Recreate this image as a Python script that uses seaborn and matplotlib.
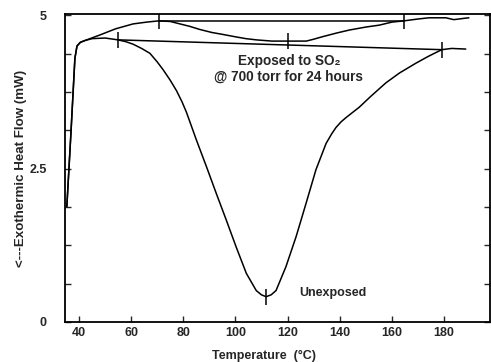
import numpy as np
import pandas as pd
import matplotlib
matplotlib.use("Agg")
import matplotlib.pyplot as plt
from matplotlib.ticker import MultipleLocator
import seaborn as sns

# ── Data ──────────────────────────────────────────────────────────────────────
unexp_temp = [35.3, 36.9, 38.4, 39.2, 40.5, 42.3, 45, 50, 54.9, 58, 60.7, 64,
              67.2, 70, 72.3, 75, 77.4, 79.5, 81.2, 85.0, 88.9, 92.7, 96.5,
              100.3, 104.2, 108.0, 110, 111.8, 113.7, 115.6, 119.4, 123.3,
              127.1, 130.9, 134.8, 137, 138.6, 140.5, 142.4, 147.5, 152, 157.8,
              163, 169.3, 174, 179.2, 183, 188.4]
unexp_flow = [1.88, 3.1, 4.30, 4.50, 4.56, 4.59, 4.62, 4.63, 4.60, 4.57, 4.53, 4.46,
              4.38, 4.24, 4.11, 3.94, 3.77, 3.59, 3.42, 2.97, 2.53, 2.09, 1.66,
              1.22, 0.79, 0.51, 0.44, 0.41, 0.44, 0.51, 0.90, 1.39,
              1.93, 2.48, 2.91, 3.07, 3.17, 3.26, 3.33, 3.50, 3.68, 3.90,
              4.06, 4.22, 4.33, 4.44, 4.46, 4.45]

exp_temp = [35.3, 36.9, 38.4, 39.2, 40.5, 42.3, 48, 54, 60.7, 66, 70.6, 75,
            82.5, 86.3, 91, 95, 100, 104, 108, 114, 120, 127.2, 130, 133.3,
            138.7, 143.7, 150.2, 155.2, 160.1, 164.7, 170, 174.3, 180.8,
            183.8, 185.8, 187.5, 189.6]
exp_flow = [1.88, 3.1, 4.30, 4.50, 4.56, 4.59, 4.68, 4.78, 4.86, 4.89, 4.91,
            4.90, 4.82, 4.77, 4.72, 4.69, 4.65, 4.62, 4.60, 4.58, 4.58, 4.58,
            4.61, 4.65, 4.71, 4.76, 4.81, 4.84, 4.89, 4.91, 4.94, 4.96, 4.96,
            4.93, 4.94, 4.95, 4.96]

# onset / peak / end marks
unexp_mark_t = [54.9, 111.9, 179.2]
unexp_mark_v = [4.60, 0.41, 4.44]
exp_mark_t = [70.6, 120, 164.7]
exp_mark_v = [4.91, 4.58, 4.91]

x_ticks = [40, 60, 80, 100, 120, 140, 160, 180]
y_ticks = [0, 2.5, 5]

df = pd.concat([
    pd.DataFrame({"Temperature": unexp_temp, "Flow": unexp_flow, "Sample": "Unexposed"}),
    pd.DataFrame({"Temperature": exp_temp, "Flow": exp_flow, "Sample": "Exposed"}),
])

# ── Plot ──────────────────────────────────────────────────────────────────────
sns.set_theme(style="ticks")
plt.rcParams["font.family"] = ["Liberation Sans", "DejaVu Sans"]
plt.rcParams["font.weight"] = "bold"

fig = plt.figure(figsize=(4.91, 3.62), dpi=100)
ax = fig.add_axes([0.1324, 0.111, 0.866, 0.850])

sns.lineplot(data=df, x="Temperature", y="Flow", units="Sample", estimator=None,
             sort=False, color="black", lw=1.1, ax=ax)

# baselines between onset and end marks
ax.plot([unexp_mark_t[0], unexp_mark_t[-1]], [unexp_mark_v[0], unexp_mark_v[-1]],
        color="black", lw=1.1)
ax.plot([exp_mark_t[0], exp_mark_t[-1]], [exp_mark_v[0], exp_mark_v[-1]],
        color="black", lw=1.1)
ax.plot(unexp_mark_t, unexp_mark_v, ls="none", marker="|", ms=11, mew=1.1, color="black")
ax.plot(exp_mark_t, exp_mark_v, ls="none", marker="|", ms=11, mew=1.1, color="black")

ax.text(120.5, 4.12, "Exposed to SO\u2082\n@ 700 torr for 24 hours",
        ha="center", va="center", fontsize=9.8, fontweight="bold", linespacing=1.15)
ax.text(124.5, 0.47, "Unexposed", ha="left", va="center", fontsize=9, fontweight="bold")

ax.set_xlim(34.6, 197.8)
ax.set_ylim(0, 5.02)
ax.set_xticks(x_ticks)
ax.set_yticks(y_ticks)
ax.set_yticklabels(["0", "2.5", "5"])
ax.yaxis.set_minor_locator(MultipleLocator(0.625))
ax.tick_params(axis="x", direction="in", length=4, width=1, pad=4, labelsize=9)
ax.tick_params(axis="y", which="both", direction="in", length=4, width=1,
               right=True, pad=13, labelsize=9)
for lab in ax.get_xticklabels() + ax.get_yticklabels():
    lab.set_fontweight("bold")
for sp in ax.spines.values():
    sp.set_linewidth(1.3)
    sp.set_color("black")

ax.set_xlabel("Temperature  (\u00b0C)", fontsize=9, fontweight="bold")
ax.set_ylabel("<---Exothermic Heat Flow (mW)", fontsize=9.6, fontweight="bold")
ax.xaxis.set_label_coords(0.467, -0.09)
ax.yaxis.set_label_coords(-0.09, 0.5)

fig.savefig("out.png", dpi=100)
